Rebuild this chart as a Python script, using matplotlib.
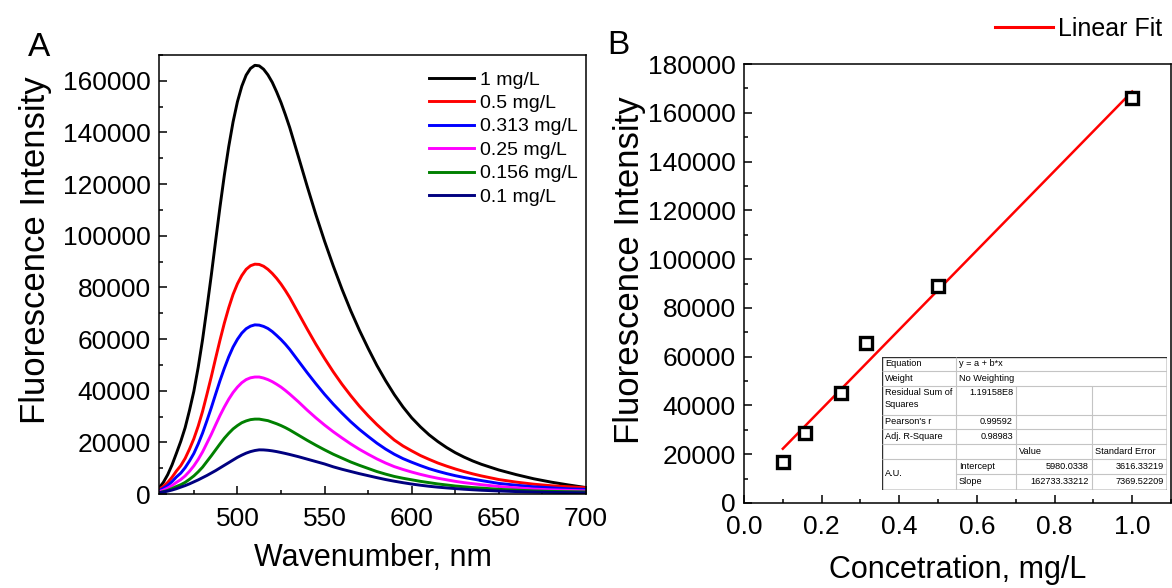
import matplotlib
matplotlib.use("Agg")
import matplotlib.pyplot as plt
from matplotlib.ticker import MultipleLocator, FormatStrFormatter
from matplotlib.lines import Line2D

plt.rcParams['font.family'] = ['Liberation Sans', 'DejaVu Sans']

# ---------------- data ----------------
wavelength = [455, 457.5, 460, 462.5, 465, 467.5, 470, 472.5, 475, 477.5, 480, 482.5, 485,
              487.5, 490, 492.5, 495, 497.5, 500, 502.5, 505, 507.5, 510, 512.5, 515, 517.5,
              520, 522.5, 525, 527.5, 530, 535, 540, 545, 550, 555, 560, 565, 570, 575, 580,
              585, 590, 595, 600, 605, 610, 615, 620, 625, 630, 635, 640,
              650, 660, 670, 680, 690, 700]

spec_1 = [2300, 4500, 7500, 11300, 15800, 20400, 25700, 32400, 39800, 49100, 59800, 72000,
          84700, 98100, 111200, 123500, 134500, 144100, 151900, 157900, 162200, 164800, 166000,
          165800, 164500, 162300, 159400, 155700, 151600, 146900, 141900, 130600, 119200,
          108200, 97900, 88300, 79300, 71000, 63400, 56400, 49800,
          43900, 38500, 33700, 29500, 26000, 22900, 20300, 18000, 16000, 14300, 12800, 11500,
          9300, 7500, 5900, 4600, 3500, 2500]
spec_05 = [1800, 2900, 4500, 6500, 8900, 11000, 13800, 17400, 21400, 26300, 32000, 38600,
           45400, 52600, 59600, 66200, 72100, 77300, 81400, 84600, 87000, 88400, 89000, 88900,
           88200, 87000, 85400, 83500, 81300, 78800, 76100, 70000, 63900, 58000, 52500, 47300,
           42500, 38100, 34000, 30300, 26900,
           23800, 20900, 18600, 16700, 14900, 13400, 12000, 10800, 9700, 8700, 7800, 7000,
           5600, 4600, 3800, 3200, 2800, 2400]
spec_0313 = [1300, 2200, 3300, 4800, 6600, 8100, 10200, 12800, 15700, 19400, 23600, 28400,
             33400, 38700, 43900, 48700, 53100, 56900, 59900, 62300, 64000, 65000, 65500, 65400,
             64900, 64100, 62900, 61400, 59800, 58000, 56000, 51500, 47000, 42700, 38600, 34800,
             31300, 28000, 25000, 22300, 19700,
             17400, 15400, 13700, 12300, 11000, 9800, 8800, 7900, 7100, 6400, 5800, 5200,
             4100, 3400, 2800, 2400, 2000, 1800]
spec_025 = [900, 1500, 2300, 3300, 4500, 5600, 7000, 8800, 10900, 13400, 16300, 19700, 23100,
            26800, 30400, 33700, 36700, 39300, 41400, 43100, 44300, 45000, 45300, 45300, 44900,
            44300, 43500, 42500, 41400, 40100, 38700, 35700, 32500, 29500, 26700, 24100, 21700,
            19400, 17300, 15400, 13600,
            12000, 10600, 9500, 8500, 7600, 6800, 6100, 5500, 4900, 4400, 4000, 3600,
            2900, 2400, 1900, 1600, 1400, 1200]
spec_0156 = [500, 900, 1400, 2100, 2900, 3600, 4500, 5700, 7000, 8600, 10400, 12600, 14800,
             17100, 19400, 21600, 23500, 25200, 26500, 27600, 28300, 28800, 29000, 29000, 28700,
             28400, 27800, 27200, 26500, 25700, 24800, 22800, 20800, 18900, 17100, 15400, 13900,
             12400, 11100, 9900, 8700,
             7700, 6800, 6100, 5500, 4900, 4400, 3900, 3500, 3100, 2800, 2500, 2300,
             1800, 1500, 1200, 1000, 900, 800]
spec_01 = [510, 770, 1110, 1540, 2050, 2650, 3250, 3930, 4700, 5470, 6330, 7180, 8120, 9060,
           10090, 11120, 12140, 13170, 14190, 15050, 15820, 16420, 16840, 17100, 17070, 16930,
           16710, 16420, 16070, 15700, 15300, 14450, 13510, 12570, 11630, 10520, 9580, 8720,
           7870, 7100, 6330,
           5600, 4960, 4380, 3850, 3400, 2990, 2650, 2360, 2090, 1850, 1640, 1450,
           1160, 940, 770, 630, 530, 440]

series_labels = ['1 mg/L', '0.5 mg/L', '0.313 mg/L', '0.25 mg/L', '0.156 mg/L', '0.1 mg/L']
series_colors = ['#000000', '#ff0000', '#0000ff', '#ff00ff', '#008000', '#000080']

conc = [0.1, 0.156, 0.25, 0.313, 0.5, 1.0]
intensity = [16750, 28800, 45100, 65400, 88900, 165900]
fit_intercept = 5980.0338
fit_slope = 162733.33212
fit_x = [0.1, 1.0]

table_rows = [
    ['Equation', 'y = a + b*x'],
    ['Weight', 'No Weighting'],
    ['Residual Sum of\nSquares', '1.19158E8'],
    ["Pearson's r", '0.99592'],
    ['Adj. R-Square', '0.98983'],
]
table_head = ['Value', 'Standard Error']
table_params = [['Intercept', '5980.0338', '3616.33219'],
                ['Slope', '162733.33212', '7369.52209']]

# ---------------- figure ----------------
W, H = 1172, 588
fig = plt.figure(figsize=(W / 100, H / 100), dpi=100)

def px_axes(x0, y0, x1, y1):
    return fig.add_axes([x0 / W, 1 - y1 / H, (x1 - x0) / W, (y1 - y0) / H])

TICK_FS = 19
XLABEL_FS = 22
YLABEL_FS = 25

def style(ax):
    for s in ax.spines.values():
        s.set_linewidth(1.1)
    ax.tick_params(which='both', direction='in', top=False, right=False,
                   labelsize=TICK_FS, width=1.1)
    ax.tick_params(axis='y', which='both', pad=6)
    ax.tick_params(axis='x', which='both', pad=9)
    ax.tick_params(which='major', length=6)
    ax.tick_params(which='minor', length=3)

# ---- panel A ----
axA = px_axes(159, 55, 586, 494)
spectra = [spec_1, spec_05, spec_0313, spec_025, spec_0156, spec_01]
for ys, lab, col in zip(spectra, series_labels, series_colors):
    axA.plot(wavelength, ys, color=col, lw=2.1, label=lab, solid_joinstyle='round')
axA.set_xlim(455, 700)
axA.set_ylim(0, 170000)
axA.xaxis.set_major_locator(MultipleLocator(50))
axA.xaxis.set_minor_locator(MultipleLocator(25))
axA.yaxis.set_major_locator(MultipleLocator(20000))
axA.yaxis.set_minor_locator(MultipleLocator(10000))
style(axA)
axA.set_xlabel('Wavenumber, nm', fontsize=XLABEL_FS, labelpad=9)
axA.set_ylabel('Fluorescence Intensity', fontsize=YLABEL_FS, labelpad=8)
axA.yaxis.label.set_y(0.556)
axA.legend(loc='upper left', bbox_to_anchor=(429 / W, 1 - 71 / H),
           bbox_transform=fig.transFigure, frameon=False, fontsize=14,
           handlelength=2.3, handletextpad=0.3, labelspacing=0.30,
           borderpad=0, borderaxespad=0)
fig.text(28 / W, 1 - 47 / H, 'A', fontsize=24, va='center', ha='left')

# ---- panel B ----
axB = px_axes(744, 64, 1171, 503)
axB.plot(fit_x, [fit_intercept + fit_slope * v for v in fit_x], color='#ff0000', lw=1.8,
         zorder=2)
axB.plot(conc, intensity, linestyle='none', marker='s', markersize=8,
         markerfacecolor='white', markeredgecolor='black', markeredgewidth=2.4, zorder=3)
axB.set_xlim(0, 1.1)
axB.set_ylim(0, 180000)
axB.xaxis.set_major_locator(MultipleLocator(0.2))
axB.xaxis.set_minor_locator(MultipleLocator(0.1))
axB.yaxis.set_major_locator(MultipleLocator(20000))
axB.yaxis.set_minor_locator(MultipleLocator(10000))
axB.xaxis.set_major_formatter(FormatStrFormatter('%.1f'))
style(axB)
axB.set_xlabel('Concetration, mg/L', fontsize=XLABEL_FS, labelpad=11)
axB.set_ylabel('Fluorescence Intensity', fontsize=YLABEL_FS, labelpad=1)
axB.yaxis.label.set_y(0.531)
fig.text(607 / W, 1 - 46 / H, 'B', fontsize=24, va='center', ha='left')

fig.legend(handles=[Line2D([], [], color='#ff0000', lw=2.2)], labels=['Linear Fit'],
           loc='upper left', bbox_to_anchor=(995 / W, 1 - 17 / H), frameon=False,
           fontsize=18, handlelength=2.3, handletextpad=0.2, borderpad=0, borderaxespad=0)

# ---- fit table ----
tx0, ty0, tx1, ty1 = 882, 357, 1167, 490
axT = px_axes(tx0, ty0, tx1, ty1)
tw, th = tx1 - tx0, ty1 - ty0
axT.set_xlim(0, tw)
axT.set_ylim(th, 0)
axT.set_xticks([])
axT.set_yticks([])
for s in axT.spines.values():
    s.set_visible(False)
axT.set_facecolor('white')
cols = [0, 74, 134, 210, tw]
rows = [0, 14, 29, 57.5, 71.5, 87, 102, 117, th]
grid_c = '#c4c4c4'
FS = 6.6

def hl(y, xa, xb):
    axT.plot([xa, xb], [y, y], color=grid_c, lw=0.8, solid_capstyle='butt')

def vl(x, ya, yb):
    axT.plot([x, x], [ya, yb], color=grid_c, lw=0.8, solid_capstyle='butt')

for r in rows[1:7]:
    hl(r, 0, tw)
hl(rows[7], cols[1], tw)
vl(cols[1], 0, th)
for c in cols[2:4]:
    vl(c, rows[2], th)
axT.add_patch(plt.Rectangle((0, 0), tw, th, fill=False, edgecolor='#303030', lw=1.0))

for i, (lab, val) in enumerate(table_rows):
    ya = rows[i]
    yb = rows[i + 1]
    if i == 2:
        axT.text(3, ya + 2, lab, fontsize=FS, va='top', ha='left', linespacing=1.45)
        axT.text(cols[2] - 3, ya + 2, val, fontsize=FS, va='top', ha='right')
    else:
        axT.text(3, (ya + yb) / 2, lab, fontsize=FS, va='center', ha='left')
        if i < 2:
            axT.text(cols[1] + 3, (ya + yb) / 2, val, fontsize=FS, va='center', ha='left')
        else:
            axT.text(cols[2] - 3, (ya + yb) / 2, val, fontsize=FS, va='center', ha='right')
axT.text(cols[2] + 3, (rows[5] + rows[6]) / 2, table_head[0], fontsize=FS, va='center', ha='left')
axT.text(cols[3] + 3, (rows[5] + rows[6]) / 2, table_head[1], fontsize=FS, va='center', ha='left')
axT.text(3, rows[7], 'A.U.', fontsize=FS, va='center', ha='left')
for j, (name, v, e) in enumerate(table_params):
    yc = (rows[6 + j] + rows[7 + j]) / 2
    axT.text(cols[1] + 3, yc, name, fontsize=FS, va='center', ha='left')
    axT.text(cols[3] - 3, yc, v, fontsize=FS, va='center', ha='right')
    axT.text(cols[4] - 3, yc, e, fontsize=FS, va='center', ha='right')

fig.savefig('out.png', dpi=100)
